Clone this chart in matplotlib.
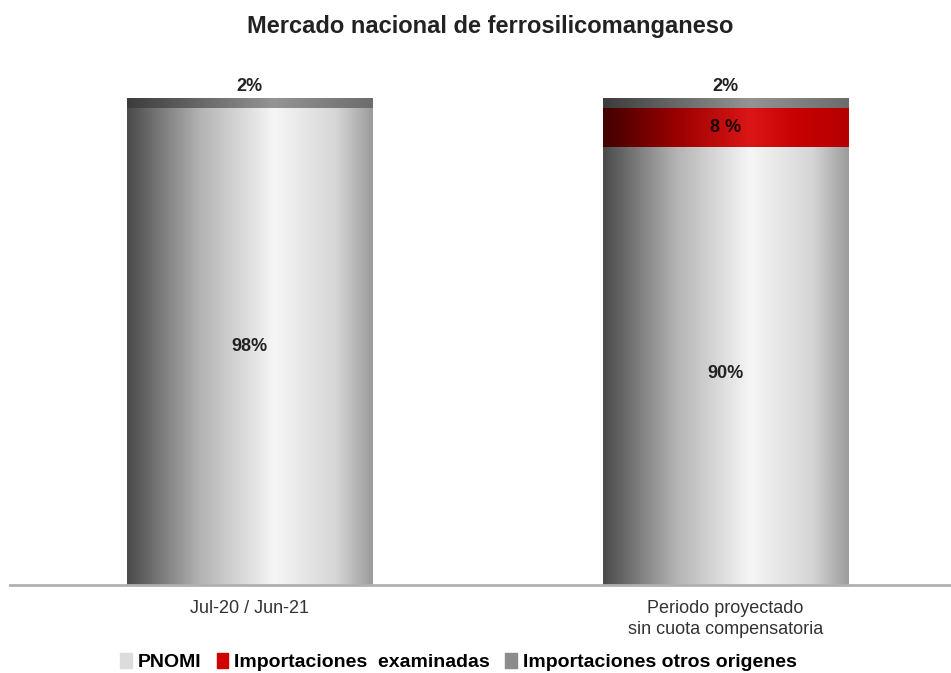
import numpy as np
import matplotlib.pyplot as plt
from matplotlib.colors import LinearSegmentedColormap
from matplotlib.patches import Patch

plt.rcParams['font.family'] = ['Liberation Sans', 'DejaVu Sans']

categorias = ["Jul-20 / Jun-21", "Periodo proyectado\nsin cuota compensatoria"]
pnomi = [98, 90]
examinadas = [0, 8]
otros = [2, 2]
series = ["PNOMI", "Importaciones  examinadas", "Importaciones otros origenes"]

# gradientes tipo cilindro
cm_gris = LinearSegmentedColormap.from_list("gris", [(0, "#4a4a4a"), (0.3, "#b4b4b4"), (0.6, "#f6f6f6"), (0.85, "#d6d6d6"), (1, "#9c9c9c")])
cm_rojo = LinearSegmentedColormap.from_list("rojo", [(0, "#420000"), (0.3, "#9a0000"), (0.6, "#dc1616"), (0.8, "#c60000"), (1, "#b40000")])
cm_oscuro = LinearSegmentedColormap.from_list("oscuro", [(0, "#3c3c3c"), (0.6, "#949494"), (1, "#6c6c6c")])

fig = plt.figure(figsize=(9.51, 6.73), dpi=100)
ax = fig.add_axes([10/951, 88/673, 941/951, 487/673])

x = np.arange(len(categorias))
ancho = 0.515
b1 = ax.bar(x, pnomi, ancho)
b2 = ax.bar(x, examinadas, ancho, bottom=pnomi)
b3 = ax.bar(x, otros, ancho, bottom=np.array(pnomi) + np.array(examinadas))

grad = np.linspace(0, 1, 256).reshape(1, -1)
for barras, cm in [(b1, cm_gris), (b2, cm_rojo), (b3, cm_oscuro)]:
    for p in barras:
        if p.get_height() <= 0:
            continue
        p.set_facecolor("none")
        p.set_edgecolor("none")
        x0, y0 = p.get_x(), p.get_y()
        im = ax.imshow(grad, cmap=cm, aspect="auto", extent=[x0, x0 + p.get_width(), y0, y0 + p.get_height()],
                       interpolation="bicubic", zorder=2)
        im.set_clip_path(p)

ax.set_xlim(-0.503, 1.474)
ax.set_ylim(0, 100)

# etiquetas
for i in range(len(categorias)):
    ax.text(x[i], pnomi[i] / 2 - (1.5 if i == 1 else 0), f"{pnomi[i]}%", ha="center", va="center",
            fontsize=13, fontweight="bold", color="#222222", zorder=5)
    if examinadas[i] > 0:
        ax.text(x[i], pnomi[i] + examinadas[i] / 2, f"{examinadas[i]} %", ha="center", va="center",
                fontsize=13, fontweight="bold", color="#1a0000", zorder=5)
    ax.text(x[i], 100 + 0.6, f"{otros[i]}%", ha="center", va="bottom",
            fontsize=13, fontweight="bold", color="#222222", zorder=5, clip_on=False)

ax.set_xticks(x)
ax.set_xticklabels(categorias, fontsize=13, color="#333333", linespacing=1.3)
ax.tick_params(axis="x", length=0, pad=11)
ax.set_yticks([])
for s in ["left", "right", "top"]:
    ax.spines[s].set_visible(False)
ax.spines["bottom"].set_color("#b0b0b0")
ax.spines["bottom"].set_linewidth(2)

fig.text(490/951, 1 - 26/673, "Mercado nacional de ferrosilicomanganeso", ha="center", va="center",
         fontsize=17, fontweight="bold", color="#222222")

handles = [Patch(color="#dcdcdc"), Patch(color="#d00000"), Patch(color="#8c8c8c")]
fig.legend(handles, series, loc="center", bbox_to_anchor=(0.482, 1 - 662/673), ncol=3, frameon=False,
           handlelength=0.6, handleheight=0.8, handletextpad=0.3, columnspacing=0.8,
           prop={"weight": "bold", "size": 14})

fig.savefig("out.png", dpi=100)
